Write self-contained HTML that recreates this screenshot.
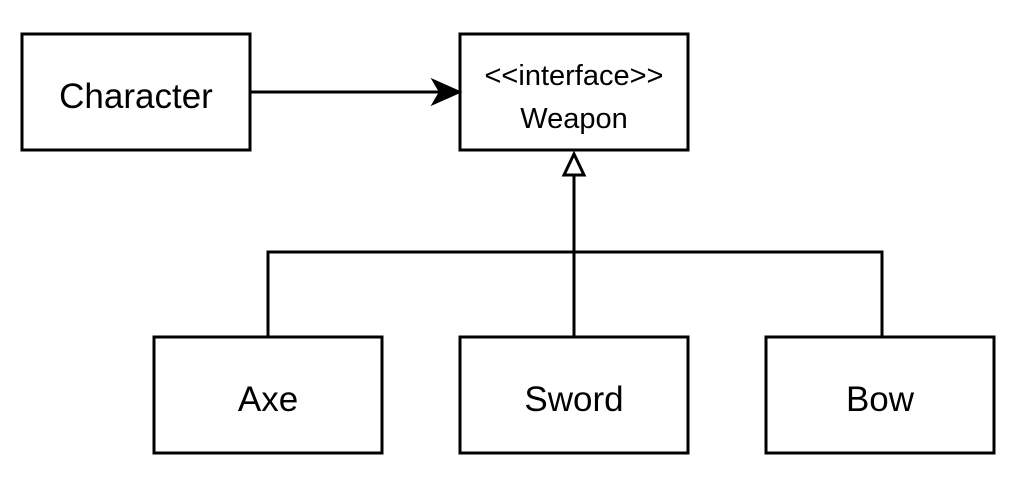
<!DOCTYPE html>
<html><head><meta charset="utf-8"><style>
html,body{margin:0;padding:0;background:#fff;width:1020px;height:485px;overflow:hidden}
svg{display:block}
text{font-family:"Liberation Sans",Arial,sans-serif;fill:#000}
</style></head><body>
<svg width="1020" height="485" viewBox="0 0 1020 485" xmlns="http://www.w3.org/2000/svg">
<g fill="none" stroke="#000" stroke-width="3">
<rect x="22" y="34" width="228" height="116"/>
<rect x="460" y="34" width="228" height="116"/>
<rect x="154" y="337" width="228" height="116"/>
<rect x="460" y="337" width="228" height="116"/>
<rect x="766" y="337" width="228" height="116"/>
<line x1="250" y1="92" x2="440" y2="92"/>
<polyline points="268,337 268,252 882,252 882,337"/>
<line x1="574" y1="337" x2="574" y2="175"/>
</g>
<polygon points="460,92 433,80 440,92 433,104" fill="#000" stroke="#000" stroke-width="2"/>
<polygon points="574,154 564,175 584,175" fill="#fff" stroke="#000" stroke-width="3"/>
<g text-anchor="middle">
<text x="136" y="108" font-size="35">Character</text>
<text x="574" y="85" font-size="29">&lt;&lt;interface&gt;&gt;</text>
<text x="574" y="128" font-size="29">Weapon</text>
<text x="268" y="411" font-size="35">Axe</text>
<text x="574" y="411" font-size="35">Sword</text>
<text x="880" y="411" font-size="35">Bow</text>
</g>
</svg>
</body></html>
